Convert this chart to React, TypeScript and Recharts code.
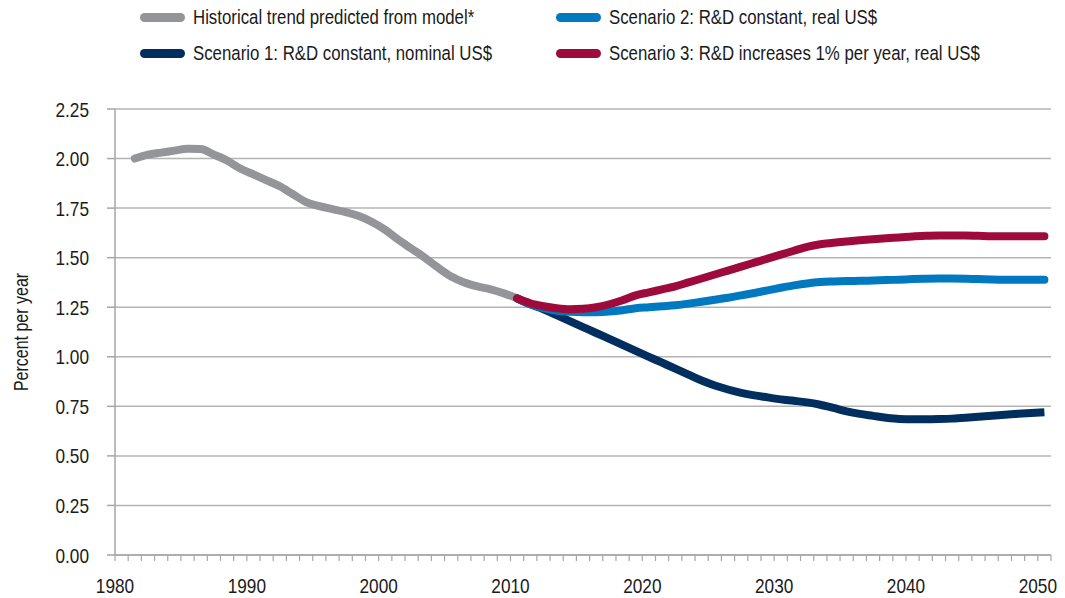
import { CartesianGrid, Line, LineChart, XAxis, YAxis } from "recharts";

const histYears = [
  1981, 1982, 1983, 1984, 1985, 1986, 1987, 1988, 1989, 1990, 1991, 1992, 1993, 1994, 1995,
  1996, 1997, 1998, 1999, 2000, 2001, 2002, 2003, 2004, 2005, 2006, 2007, 2008, 2009, 2010,
];
const historical = [
  2.0, 2.02, 2.03, 2.04, 2.05, 2.048, 2.02, 1.99, 1.95, 1.92, 1.89, 1.86, 1.82, 1.78, 1.76,
  1.745, 1.73, 1.71, 1.68, 1.64, 1.59, 1.545, 1.5, 1.45, 1.405, 1.375, 1.355, 1.34, 1.32, 1.295,
];

const scenYears = [
  2010, 2011, 2012, 2013, 2014, 2015, 2016, 2017, 2018, 2019, 2020, 2021, 2022, 2023, 2024,
  2025, 2026, 2027, 2028, 2029, 2030, 2031, 2032, 2033, 2034, 2035, 2036, 2037, 2038, 2039,
  2040, 2041, 2042, 2043, 2044, 2045, 2046, 2047, 2048, 2049, 2050,
];
const scenario1 = [
  1.295, 1.265, 1.24, 1.21, 1.18, 1.15, 1.12, 1.09, 1.06, 1.03, 1.0, 0.97, 0.94, 0.91, 0.88,
  0.855, 0.835, 0.818, 0.805, 0.795, 0.785, 0.778, 0.77, 0.758, 0.742, 0.725, 0.712, 0.702, 0.692, 0.686,
  0.685, 0.685, 0.686, 0.688, 0.692, 0.697, 0.703, 0.708, 0.712, 0.716, 0.72,
];
const scenario2 = [
  1.295, 1.265, 1.245, 1.232, 1.227, 1.225, 1.225, 1.228, 1.235, 1.245, 1.25, 1.255, 1.26, 1.268, 1.278,
  1.288, 1.298, 1.31, 1.322, 1.335, 1.348, 1.36, 1.37, 1.377, 1.38, 1.382, 1.383, 1.385, 1.387, 1.389,
  1.392, 1.394, 1.395, 1.395, 1.394, 1.392, 1.39, 1.389, 1.389, 1.389, 1.389,
];
const scenario3 = [
  1.295, 1.27, 1.255, 1.245, 1.24, 1.242, 1.25, 1.265, 1.285, 1.31, 1.325, 1.34, 1.355, 1.375, 1.395,
  1.415, 1.435, 1.455, 1.475, 1.495, 1.515, 1.535, 1.555, 1.568, 1.575, 1.582, 1.588, 1.593, 1.598, 1.602,
  1.607, 1.61, 1.612, 1.612, 1.612, 1.61, 1.608, 1.608, 1.608, 1.608, 1.608,
];

const yTicks = [0, 0.25, 0.5, 0.75, 1, 1.25, 1.5, 1.75, 2, 2.25];
const xTicks = Array.from({ length: 72 }, (_, i) => 1980 + i);

const GRAY = "#939598";
const NAVY = "#002f5f";
const BLUE = "#0079c1";
const RED = "#9e0a3c";
const AXIS = "#a6a6a6";
const INK = "#1a1a1a";
const FONT = "'Liberation Sans', Arial, sans-serif";
// no condensed face installed, so squeeze Liberation Sans like Arial Narrow
const NARROW = 0.82;

// one row per year, plotted in the middle of the year slot
const data = xTicks.slice(1, 71).map((yr) => {
  const h = histYears.indexOf(yr);
  const s = scenYears.indexOf(yr);
  return {
    x: yr + 0.5,
    hist: h >= 0 ? historical[h] : undefined,
    s1: s >= 0 ? scenario1[s] : undefined,
    s2: s >= 0 ? scenario2[s] : undefined,
    s3: s >= 0 ? scenario3[s] : undefined,
  };
});

const legendItems = [
  { label: "Historical trend predicted from model*", color: GRAY, left: 140, top: 17 },
  { label: "Scenario 2: R&D constant, real US$", color: BLUE, left: 556, top: 17 },
  { label: "Scenario 1: R&D constant, nominal US$", color: NAVY, left: 140, top: 53 },
  { label: "Scenario 3: R&D increases 1% per year, real US$", color: RED, left: 556, top: 53 },
];

function XTick({ x, y, payload }: any) {
  const top = y - 8;
  return (
    <g>
      <line x1={x} x2={x} y1={top} y2={top + 6} stroke={AXIS} strokeWidth={1.2} />
      {payload.value % 10 === 0 && (
        <text
          transform={`translate(${x} 593) scale(${NARROW} 1)`}
          textAnchor="middle"
          fontSize={21}
          fill={INK}
          fontFamily={FONT}
        >
          {payload.value}
        </text>
      )}
    </g>
  );
}

function YTick({ x, y, payload }: any) {
  return (
    <text
      transform={`translate(${x} ${y + 7.5}) scale(${NARROW} 1)`}
      textAnchor="end"
      fontSize={21}
      fill={INK}
      fontFamily={FONT}
    >
      {payload.value.toFixed(2)}
    </text>
  );
}

function YTitle({ viewBox }: any) {
  const cy = viewBox.y + viewBox.height / 2;
  return (
    <text
      transform={`translate(28 ${cy}) rotate(-90) scale(${NARROW} 1)`}
      textAnchor="middle"
      fontSize={19.5}
      fill={INK}
      fontFamily={FONT}
    >
      Percent per year
    </text>
  );
}

export default function App() {
  return (
    <div style={{ position: "absolute", left: 0, top: 0, width: 1065, height: 598, background: "#fff" }}>
      {legendItems.map((it) => (
        <div
          key={it.label}
          style={{
            position: "absolute",
            left: it.left,
            top: it.top - 12,
            height: 24,
            display: "flex",
            alignItems: "center",
            fontFamily: FONT,
            fontSize: 20.5,
            color: INK,
            whiteSpace: "nowrap",
          }}
        >
          <span
            style={{
              display: "inline-block",
              width: 45,
              height: 9,
              borderRadius: 5,
              background: it.color,
              marginRight: 8,
            }}
          />
          <span style={{ display: "inline-block", transform: `scaleX(${NARROW})`, transformOrigin: "left center" }}>
            {it.label}
          </span>
        </div>
      ))}
      <LineChart width={1065} height={598} data={data} margin={{ top: 109, right: 14, bottom: 0, left: 0 }}>
        <CartesianGrid vertical={false} stroke="#b4b4b4" strokeWidth={1.5} />
        <XAxis
          type="number"
          dataKey="x"
          domain={[1980, 2051]}
          ticks={xTicks}
          interval={0}
          height={43}
          tickSize={6}
          tickLine={false}
          stroke={AXIS}
          strokeWidth={1.5}
          tick={<XTick />}
        />
        <YAxis
          type="number"
          domain={[0, 2.25]}
          ticks={yTicks}
          width={115}
          tickSize={8}
          tickMargin={18}
          stroke={AXIS}
          strokeWidth={1.5}
          tick={<YTick />}
          label={<YTitle />}
        />
        <Line dataKey="hist" stroke={GRAY} strokeWidth={8} strokeLinecap="round" dot={false} type="monotone" isAnimationActive={false} />
        <Line dataKey="s1" stroke={NAVY} strokeWidth={8} strokeLinecap="butt" dot={false} type="monotone" isAnimationActive={false} />
        <Line dataKey="s2" stroke={BLUE} strokeWidth={8} strokeLinecap="round" dot={false} type="monotone" isAnimationActive={false} />
        <Line dataKey="s3" stroke={RED} strokeWidth={8} strokeLinecap="round" dot={false} type="monotone" isAnimationActive={false} />
      </LineChart>
    </div>
  );
}
